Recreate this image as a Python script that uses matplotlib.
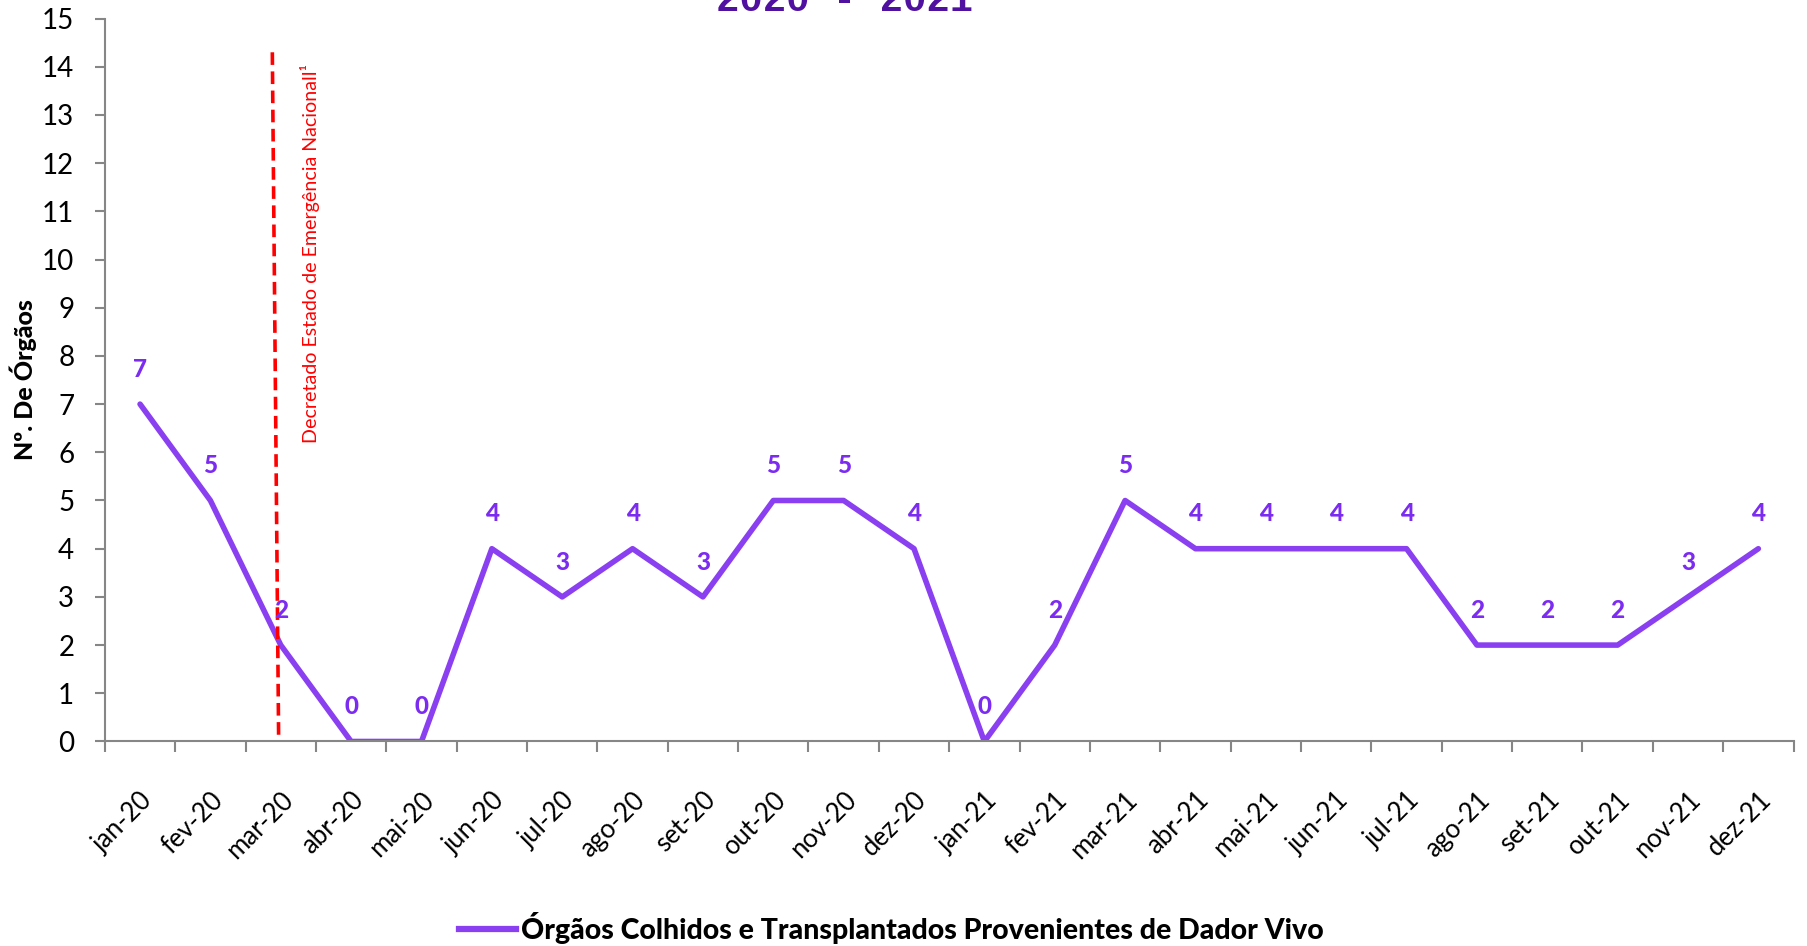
import numpy as np
import matplotlib.pyplot as plt
from matplotlib.lines import Line2D

months = ["jan-20", "fev-20", "mar-20", "abr-20", "mai-20", "jun-20",
          "jul-20", "ago-20", "set-20", "out-20", "nov-20", "dez-20",
          "jan-21", "fev-21", "mar-21", "abr-21", "mai-21", "jun-21",
          "jul-21", "ago-21", "set-21", "out-21", "nov-21", "dez-21"]
orgaos = [7, 5, 2, 0, 0, 4, 3, 4, 3, 5, 5, 4,
          0, 2, 5, 4, 4, 4, 4, 2, 2, 2, 3, 4]

# marker line for the state of emergency (slightly slanted in the original)
emerg_x = [1.88, 1.97]
emerg_y = [14.3, 0]

serie_label = "Órgãos Colhidos e Transplantados Provenientes de Dador Vivo"
line_color = "#8A3FF0"
label_color = "#7B2CF0"
gray = "#868686"

fig = plt.figure(figsize=(18.08, 9.46), dpi=100)
ax = fig.add_axes([0.058, 0.2162, 0.934, 0.7642])

x = np.arange(len(months))
ax.plot(x, orgaos, color=line_color, lw=4, solid_joinstyle="round",
        solid_capstyle="round")
for xi, v in zip(x, orgaos):
    ax.annotate(str(v), (xi, v), xytext=(0, 25), textcoords="offset points",
                ha="center", va="center", color=label_color,
                fontsize=17.5, fontweight="black", family="Lato")

ax.plot(emerg_x, emerg_y, color="red", lw=2.6, ls=(0, (3.5, 1.8)))
ax.text(2.42, 14.05, "Decretado Estado de Emergência Nacionall¹", rotation=90,
        ha="center", va="top", color="red", fontsize=14.1, family="Lato")

ax.set_xlim(-0.5, len(months) - 0.5)
ax.set_ylim(0, 15)
ax.set_yticks(range(0, 16))
ax.tick_params(axis="y", labelsize=20, length=7, width=1.5, color=gray, pad=15)
for t in ax.get_yticklabels():
    t.set_family("Lato")

ax.set_xticks(x)
ax.set_xticklabels(months, rotation=45, ha="right", rotation_mode="anchor",
                   fontsize=18.5, family="Lato")
ax.tick_params(axis="x", which="major", length=0, pad=33)
ax.set_xticks(np.arange(-0.5, len(months)), minor=True)
ax.tick_params(axis="x", which="minor", length=8, width=1.5, color=gray)

for s in ["top", "right"]:
    ax.spines[s].set_visible(False)
for s in ["left", "bottom"]:
    ax.spines[s].set_color(gray)
    ax.spines[s].set_linewidth(1.5)

ax.set_ylabel("Nº. De Órgãos", fontsize=18, fontweight="black", family="Lato")
ax.yaxis.set_label_coords(-0.040, 0.5)

fig.text(0.467, 1 - 11 / 946, "2020 - 2021", ha="center", va="baseline",
         color="#5010A0", fontsize=28, fontweight="bold", family="Liberation Mono")

handle = Line2D([], [], color=line_color, lw=4.5)
fig.legend([handle], [serie_label], loc="center", bbox_to_anchor=(0.493, 0.019),
           frameon=False, handlelength=2.0, handletextpad=0.15,
           prop={"family": "Lato", "weight": "black", "size": 20.5})

fig.savefig("out.png", dpi=100)
